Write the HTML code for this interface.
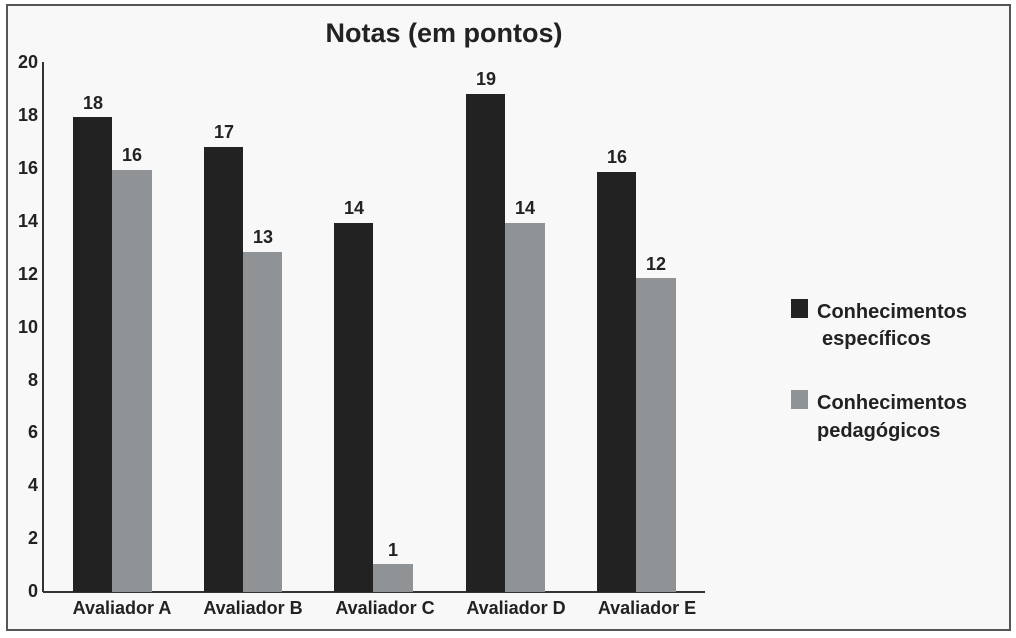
<!DOCTYPE html>
<html><head><meta charset="utf-8"><style>
html,body{margin:0;padding:0;background:#fff;}
svg{display:block;font-family:"Liberation Sans",Arial,sans-serif;font-weight:bold;}
</style></head><body>
<svg width="1016" height="638" viewBox="0 0 1016 638" xmlns="http://www.w3.org/2000/svg">
<rect x="0" y="0" width="1016" height="638" fill="#ffffff"/>
<rect x="7" y="5" width="1003" height="625" fill="#f8f8f8" stroke="#555" stroke-width="2"/>
<text x="444" y="42" font-size="27" text-anchor="middle" fill="#222">Notas (em pontos)</text>
<line x1="43" y1="62" x2="43" y2="592" stroke="#333" stroke-width="2"/>
<line x1="43" y1="592" x2="705" y2="592" stroke="#333" stroke-width="2"/>
<g font-size="18" fill="#222" text-anchor="end">
<text x="38" y="597">0</text>
<text x="38" y="544">2</text>
<text x="38" y="491">4</text>
<text x="38" y="438">6</text>
<text x="38" y="386">8</text>
<text x="38" y="333">10</text>
<text x="38" y="280">12</text>
<text x="38" y="227">14</text>
<text x="38" y="174">16</text>
<text x="38" y="121">18</text>
<text x="38" y="68">20</text>
</g>
<g fill="#222">
<rect x="73" y="117" width="39" height="475"/>
<rect x="204" y="147" width="39" height="445"/>
<rect x="334" y="223" width="39" height="369"/>
<rect x="466" y="94" width="39" height="498"/>
<rect x="597" y="172" width="39" height="420"/>
</g>
<g fill="#909395">
<rect x="112" y="170" width="40" height="422"/>
<rect x="243" y="252" width="39" height="340"/>
<rect x="373" y="564" width="40" height="28"/>
<rect x="505" y="223" width="40" height="369"/>
<rect x="636" y="278" width="40" height="314"/>
</g>
<g font-size="18" fill="#222" text-anchor="middle">
<text x="93" y="109">18</text>
<text x="132" y="161">16</text>
<text x="224" y="138">17</text>
<text x="263" y="243">13</text>
<text x="354" y="214">14</text>
<text x="393" y="556">1</text>
<text x="486" y="85">19</text>
<text x="525" y="214">14</text>
<text x="617" y="163">16</text>
<text x="656" y="270">12</text>
</g>
<g font-size="18" fill="#222" text-anchor="middle">
<text x="122" y="614">Avaliador A</text>
<text x="253" y="614">Avaliador B</text>
<text x="385" y="614">Avaliador C</text>
<text x="516" y="614">Avaliador D</text>
<text x="647" y="614">Avaliador E</text>
</g>
<rect x="791" y="299" width="17" height="19" fill="#222"/>
<rect x="791" y="390" width="17" height="19" fill="#909395"/>
<g font-size="20" fill="#222">
<text x="817" y="318">Conhecimentos</text>
<text x="822" y="345">específicos</text>
<text x="817" y="409">Conhecimentos</text>
<text x="817" y="437">pedagógicos</text>
</g>
</svg>
</body></html>
